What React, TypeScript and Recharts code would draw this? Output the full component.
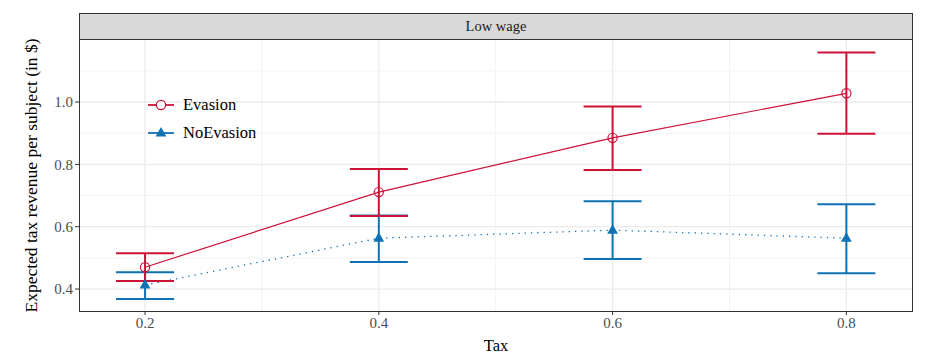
import { ComposedChart, Line, XAxis, YAxis, ErrorBar, ReferenceLine } from "recharts";

const TAX = [0.2, 0.4, 0.6, 0.8];
const EVASION = [0.47, 0.711, 0.885, 1.028];
const EVASION_LO = [0.426, 0.634, 0.782, 0.898];
const EVASION_HI = [0.515, 0.785, 0.986, 1.159];
const NOEVASION = [0.413, 0.563, 0.589, 0.563];
const NOEVASION_LO = [0.368, 0.487, 0.496, 0.451];
const NOEVASION_HI = [0.454, 0.636, 0.682, 0.672];

const X_TICKS = [0.2, 0.4, 0.6, 0.8];
const X_MINOR = [0.3, 0.5, 0.7];
const Y_TICKS = [0.4, 0.6, 0.8, 1.0];
const Y_MINOR = [0.5, 0.7, 0.9, 1.1];

const RED = "#CC1236";
const BLUE = "#0F72B2";
const FONT = "'Liberation Serif', 'DejaVu Serif', serif";

const data = TAX.map((t, i) => ({
  tax: t,
  ev: EVASION[i],
  evErr: [EVASION[i] - EVASION_LO[i], EVASION_HI[i] - EVASION[i]],
  ne: NOEVASION[i],
  neErr: [NOEVASION[i] - NOEVASION_LO[i], NOEVASION_HI[i] - NOEVASION[i]],
}));

const LEGEND_ITEMS = [
  { label: "Evasion", color: RED, shape: "circle" },
  { label: "NoEvasion", color: BLUE, shape: "triangle" },
];

function OpenCircle(props: any) {
  const { cx, cy } = props;
  if (cx == null || cy == null) return null;
  return <circle cx={cx} cy={cy} r={4.6} fill="none" stroke={RED} strokeWidth={1.2} />;
}

function Triangle(props: any) {
  const { cx, cy } = props;
  if (cx == null || cy == null) return null;
  const s = 5.4;
  return (
    <polygon
      points={`${cx},${cy - s * 1.1} ${cx - s},${cy + s * 0.65} ${cx + s},${cy + s * 0.65}`}
      fill={BLUE}
    />
  );
}

function LegendBox() {
  return (
    <div style={{ fontFamily: FONT, fontSize: 16.5, color: "#000" }}>
      {LEGEND_ITEMS.map((it) => (
        <div key={it.label} style={{ display: "flex", alignItems: "center", height: 28 }}>
          <svg width={32} height={20} style={{ marginRight: 5 }}>
            <line x1={2} y1={10} x2={28} y2={10} stroke={it.color} strokeWidth={1.8} />
            {it.shape === "circle" ? (
              <circle cx={15} cy={10} r={4.6} fill="white" stroke={it.color} strokeWidth={1.2} />
            ) : (
              <polygon points="15,4 9.6,13.5 20.4,13.5" fill={it.color} />
            )}
          </svg>
          <span>{it.label}</span>
        </div>
      ))}
    </div>
  );
}

export default function App() {
  return (
    <div style={{ position: "absolute", left: 0, top: 0, width: 932, height: 362, background: "#fff" }}>
      <ComposedChart
        width={932}
        height={362}
        data={data}
        margin={{ top: 40, right: 19, left: 0, bottom: 21 }}
      >
        <XAxis
          dataKey="tax"
          type="number"
          domain={[0.1435, 0.857]}
          ticks={X_TICKS}
          tickFormatter={(v: number) => v.toFixed(1)}
          axisLine={false}
          tickLine={{ stroke: "#333333", strokeWidth: 1 }}
          tickSize={4}
          tick={{ fontSize: 15, fill: "#4D4D4D", fontFamily: FONT }}
          height={30}
          allowDataOverflow
          label={{ value: "Tax", position: "insideBottom", offset: -10, fontSize: 16.5, fill: "#000", fontFamily: FONT }}
        />
        <YAxis
          type="number"
          domain={[0.3295, 1.199]}
          ticks={Y_TICKS}
          tickFormatter={(v: number) => v.toFixed(1)}
          axisLine={false}
          tickLine={{ stroke: "#333333", strokeWidth: 1 }}
          tickSize={4}
          tick={{ fontSize: 15, fill: "#4D4D4D", fontFamily: FONT }}
          width={79}
          allowDataOverflow
          label={{
            value: "Expected tax revenue per subject (in $)",
            angle: -90,
            position: "insideLeft",
            offset: 31,
            style: { textAnchor: "middle", fontSize: 17.5, fill: "#000", fontFamily: FONT },
          }}
        />
        {X_MINOR.map((v) => (
          <ReferenceLine key={"xm" + v} x={v} stroke="#F2F2F2" strokeWidth={1} />
        ))}
        {Y_MINOR.map((v) => (
          <ReferenceLine key={"ym" + v} y={v} stroke="#F2F2F2" strokeWidth={1} />
        ))}
        {X_TICKS.map((v) => (
          <ReferenceLine key={"x" + v} x={v} stroke="#EBEBEB" strokeWidth={1.3} />
        ))}
        {Y_TICKS.map((v) => (
          <ReferenceLine key={"y" + v} y={v} stroke="#EBEBEB" strokeWidth={1.3} />
        ))}
        <Line
          dataKey="ne"
          type="linear"
          stroke={BLUE}
          strokeWidth={1.3}
          strokeDasharray="1.3 5"
          dot={<Triangle />}
          activeDot={false}
          isAnimationActive={false}
        >
          <ErrorBar dataKey="neErr" direction="y" width={29} stroke={BLUE} strokeWidth={2} />
        </Line>
        <Line
          dataKey="ev"
          type="linear"
          stroke={RED}
          strokeWidth={1.2}
          dot={<OpenCircle />}
          activeDot={false}
          isAnimationActive={false}
        >
          <ErrorBar dataKey="evErr" direction="y" width={29} stroke={RED} strokeWidth={2} />
        </Line>
      </ComposedChart>
      <div style={{ position: "absolute", left: 146, top: 91 }}>
        <LegendBox />
      </div>
      <div
        style={{
          position: "absolute",
          left: 79,
          top: 13,
          width: 834,
          height: 27,
          boxSizing: "border-box",
          background: "#D9D9D9",
          border: "1px solid #333333",
          fontFamily: FONT,
          fontSize: 14.5,
          color: "#1A1A1A",
          display: "flex",
          alignItems: "center",
          justifyContent: "center",
        }}
      >
        Low wage
      </div>
      <div
        style={{
          position: "absolute",
          left: 79,
          top: 39,
          width: 834,
          height: 273,
          boxSizing: "border-box",
          border: "1px solid #333333",
          pointerEvents: "none",
        }}
      />
    </div>
  );
}
